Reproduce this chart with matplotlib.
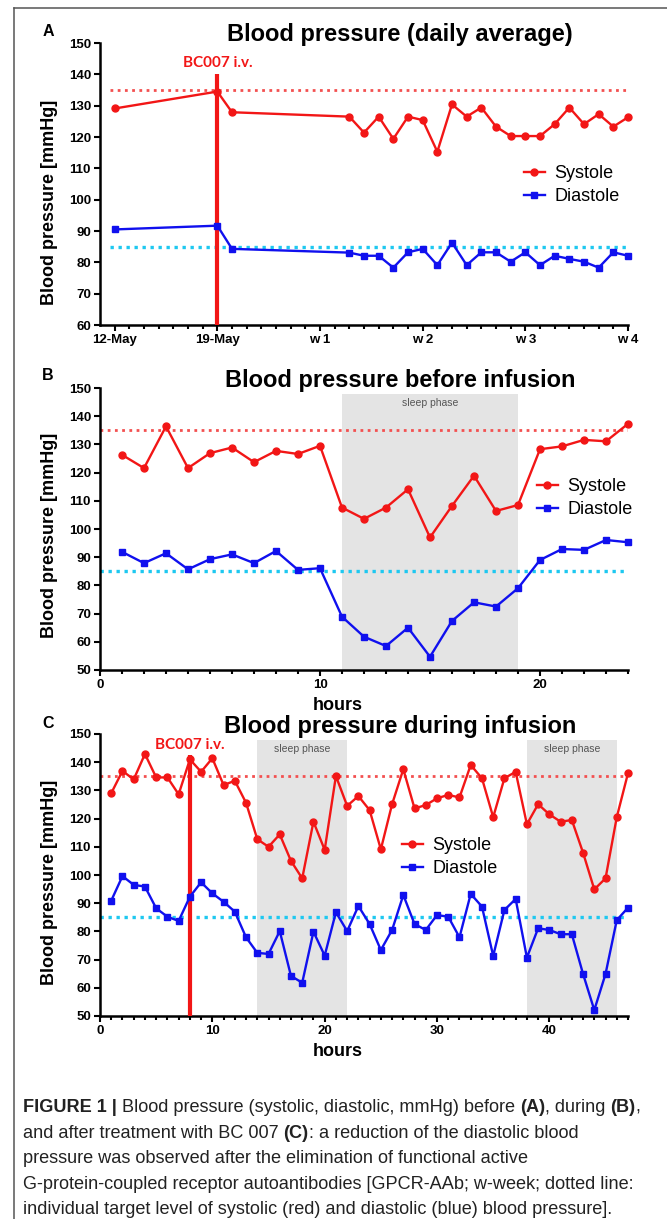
import numpy as np
import matplotlib
matplotlib.use('Agg')
from matplotlib import pyplot as plt
from matplotlib.lines import Line2D
from matplotlib.ticker import MultipleLocator, FixedLocator

plt.rcParams['font.family'] = ['Liberation Sans', 'DejaVu Sans']

# %% data
# A: daily average, x in days from 12-May
a_days = [0, 7, 8] + list(range(16, 36))
a_sys = [129.1, 134.5, 127.9,
         126.5, 121.4, 126.5, 119.4, 126.5, 125.4, 115.3, 130.4, 126.5, 129.4,
         123.3, 120.3, 120.3, 120.3, 124.1, 129.4, 124.1, 127.3, 123.3, 126.3]
a_dia = [90.5, 91.7, 84.3,
         83.1, 82.1, 82.1, 78.3, 83.2, 84.3, 79.1, 86.3, 79.1, 83.2,
         83.2, 80.2, 83.2, 79.1, 82.1, 81.1, 80.2, 78.3, 83.2, 82.1]
a_ticks = [0, 7, 14, 21, 28, 35]
a_ticklabels = ['12-May', '19-May', 'w 1', 'w 2', 'w 3', 'w 4']

# B: before infusion, hourly
b_hours = list(range(1, 25))
b_sys = [126.3, 121.6, 136.4, 121.6, 126.9, 128.9, 123.7, 127.7, 126.6, 129.5,
         107.6, 103.6, 107.6, 114.1, 97.0, 108.2, 118.9, 106.4, 108.5, 128.3,
         129.3, 131.6, 131.1, 137.3]
b_dia = [91.9, 87.9, 91.4, 85.7, 89.3, 91.0, 87.9, 92.2, 85.5, 86.1,
         68.9, 61.8, 58.5, 65.0, 54.7, 67.4, 74.0, 72.5, 79.0, 89.0,
         92.9, 92.6, 96.1, 95.3]
b_sleep = [(11, 19)]

# C: during infusion, hourly
c_hours = list(range(1, 48))
c_sys = [129.0, 136.9, 133.9, 142.9, 134.6, 134.6, 128.6, 141.0, 136.6, 141.4,
         131.9, 133.4, 125.6, 112.7, 110.0, 114.4, 105.0, 98.8, 118.9, 108.9,
         135.1, 124.5, 128.0, 123.0, 109.1, 125.1, 137.5, 123.6, 124.8, 127.2,
         128.4, 127.5, 139.0, 134.3, 120.5, 134.3, 136.6, 118.0, 125.1, 121.5,
         118.9, 119.5, 107.9, 94.9, 98.8, 120.5, 136.1]
c_dia = [90.9, 99.6, 96.5, 95.9, 88.2, 85.2, 83.7, 92.3, 97.4, 93.5,
         90.5, 87.0, 77.9, 72.4, 72.0, 80.1, 64.2, 61.8, 79.9, 71.4,
         86.8, 80.1, 89.0, 82.6, 73.4, 80.5, 92.9, 82.6, 80.5, 85.8,
         85.2, 77.9, 93.3, 88.8, 71.3, 87.6, 91.5, 70.7, 81.1, 80.5,
         79.0, 79.0, 64.9, 52.1, 64.9, 84.0, 88.4]
c_sleep = [(14, 22), (38, 46)]

sys_target, dia_target = 135, 85
infusion_a, infusion_c = 7, 8

RED = '#f21616'
BLUE = '#1010ee'
CYAN = '#1ec8f0'

W, H = 667, 1219
fig = plt.figure(figsize=(W / 100, H / 100), dpi=100)


def fx(px):
    return px / W


def fy(py):
    return 1 - py / H


def make_ax(top, bottom):
    ax = fig.add_axes([fx(100), fy(bottom), fx(628) - fx(100), fy(top) - fy(bottom)])
    for s in ['top', 'right']:
        ax.spines[s].set_visible(False)
    for s in ['left', 'bottom']:
        ax.spines[s].set_linewidth(1.8)
    ax.tick_params(which='major', width=1.5, length=4.5, labelsize=9.5, pad=2)
    ax.tick_params(which='minor', width=1.5, length=3)
    return ax


def series(ax, x, s, d):
    ax.plot(x, s, '-o', color=RED, lw=1.7, ms=5, label='Systole', zorder=4, clip_on=False)
    ax.plot(x, d, '-s', color=BLUE, lw=1.7, ms=5, label='Diastole', zorder=4, clip_on=False)


def targets(ax, x0, x1):
    ax.hlines(sys_target, x0, x1, colors='#f35050', linestyles=(0, (1, 1.6)), lw=2, zorder=2)
    ax.hlines(dia_target, x0, x1, colors=CYAN, linestyles=(0, (1, 1.4)), lw=2.4, zorder=2)


def legend(ax, left_px, mid_px):
    ax.legend(loc='center left', bbox_to_anchor=(fx(left_px), fy(mid_px)),
              bbox_transform=fig.transFigure, frameon=False, fontsize=13,
              handlelength=1.15, handletextpad=0.55, labelspacing=0.35,
              borderpad=0, borderaxespad=0)


def bold_ticks(ax):
    for lab in ax.get_xticklabels() + ax.get_yticklabels():
        lab.set_fontweight('bold')


# %% panel A
ax = make_ax(43, 325)
ax.set_xlim(-1, 35)
ax.set_ylim(60, 150)
ax.set_xticks(a_ticks)
ax.set_xticklabels(a_ticklabels)
ax.xaxis.set_minor_locator(FixedLocator(range(0, 36)))
ax.yaxis.set_major_locator(MultipleLocator(10))
targets(ax, -0.3, 35)
ax.vlines(infusion_a, 60, 140, colors=RED, lw=3, zorder=3, clip_on=False)
ax.text(infusion_a, 143.6, 'BC007 i.v.', color=RED, fontsize=11, fontweight='bold',
        family=['Lato', 'DejaVu Sans'], ha='center', va='center')
series(ax, a_days, a_sys, a_dia)
legend(ax, 524, 185)
bold_ticks(ax)

# %% panel B
ax = make_ax(388, 670)
ax.set_xlim(0, 24)
ax.set_ylim(50, 150)
ax.xaxis.set_major_locator(MultipleLocator(10))
ax.xaxis.set_minor_locator(MultipleLocator(1))
ax.yaxis.set_major_locator(MultipleLocator(10))
for s0, s1 in b_sleep:
    ax.axvspan(s0, s1, ymax=0.98, color='#e4e4e4', lw=0, zorder=0)
    ax.text((s0 + s1) / 2, 144.8, 'sleep phase', color='#555555', fontsize=7.5,
            ha='center', va='center')
targets(ax, 0, 24)
series(ax, b_hours, b_sys, b_dia)
legend(ax, 537, 498)
bold_ticks(ax)

# %% panel C
ax = make_ax(734, 1016)
ax.set_xlim(0, 47)
ax.set_ylim(50, 150)
ax.xaxis.set_major_locator(MultipleLocator(10))
ax.xaxis.set_minor_locator(MultipleLocator(1))
ax.yaxis.set_major_locator(MultipleLocator(10))
for s0, s1 in c_sleep:
    ax.axvspan(s0, s1, ymax=0.98, color='#e4e4e4', lw=0, zorder=0)
    ax.text((s0 + s1) / 2, 144.6, 'sleep phase', color='#555555', fontsize=7.5,
            ha='center', va='center')
targets(ax, 0, 47)
ax.vlines(infusion_c, 50, 142.5, colors=RED, lw=3, zorder=3)
ax.text(infusion_c, 146.2, 'BC007 i.v.', color=RED, fontsize=11, fontweight='bold',
        family=['Lato', 'DejaVu Sans'], ha='center', va='center')
series(ax, c_hours, c_sys, c_dia)
legend(ax, 402, 857)
bold_ticks(ax)

# %% titles, labels, letters
titles = ['Blood pressure (daily average)', 'Blood pressure before infusion',
          'Blood pressure during infusion']
for t, y in zip(titles, [35, 380, 727]):
    fig.text(fx(400), fy(y), t, fontsize=17, fontweight='bold', ha='center', va='center')
for t, y in zip(['A', 'B', 'C'], [32, 376, 723]):
    fig.text(fx(48), fy(y), t, fontsize=11.5, fontweight='bold', ha='center', va='center')
for y in [202, 535, 882]:
    fig.text(fx(50), fy(y), 'Blood pressure [mmHg]', fontsize=13, fontweight='bold',
             rotation=90, ha='center', va='center')
for y in [705, 1051]:
    fig.text(fx(338), fy(y), 'hours', fontsize=13, fontweight='bold', ha='center', va='center')

# %% frame
fig.add_artist(Line2D([fx(14), fx(14)], [0, fy(8)], color='#555555', lw=1.1))
fig.add_artist(Line2D([fx(14), 1], [fy(8), fy(8)], color='#555555', lw=1.1))

# %% caption
caption = [
    [('FIGURE 1 | ', 'bold'), ('Blood pressure (systolic, diastolic, mmHg) before ', 'normal'),
     ('(A)', 'bold'), (', during ', 'normal'), ('(B)', 'bold'), (',', 'normal')],
    [('and after treatment with BC 007 ', 'normal'), ('(C)', 'bold'),
     (': a reduction of the diastolic blood', 'normal')],
    [('pressure was observed after the elimination of functional active', 'normal')],
    [('G-protein-coupled receptor autoantibodies [GPCR-AAb; w-week; dotted line:', 'normal')],
    [('individual target level of systolic (red) and diastolic (blue) blood pressure].', 'normal')],
]
renderer = fig.canvas.get_renderer()
for line, y in zip(caption, [1112, 1138, 1163, 1189, 1214]):
    x = 23
    for txt, wt in line:
        t = fig.text(fx(x), fy(y), txt, fontsize=13.1, fontweight=wt, color='#222222',
                     ha='left', va='baseline')
        x += t.get_window_extent(renderer).width

fig.savefig('out.png', dpi=100)
